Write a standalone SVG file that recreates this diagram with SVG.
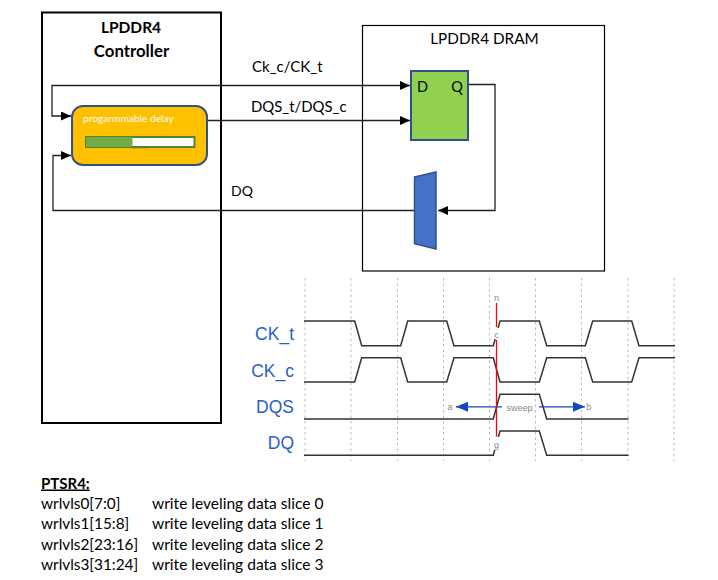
<svg xmlns="http://www.w3.org/2000/svg" width="718" height="580" viewBox="0 0 718 580">
<style>
text{font-family:"Lato","Liberation Sans",sans-serif;fill:#000}
.t{font-size:15px}
.l{font-size:15.350px}
.r{font-size:15.550px}
.b{font-size:15.500px;font-weight:700;text-anchor:middle}
.w{fill:none;stroke:#222;stroke-width:1.3}
.wave{fill:none;stroke:#333;stroke-width:1.5}
.grid{stroke:#bbb;stroke-width:1;stroke-dasharray:2.5 3}
.sig{font-family:"Liberation Sans",sans-serif;font-size:17.500px;fill:#2a5fc8;text-anchor:end}
.m{font-family:"Liberation Sans",sans-serif;font-size:9px;fill:#888;text-anchor:middle}
.ff{font-size:14.500px;text-anchor:middle}
</style>
<defs>
<marker id="ah" markerWidth="10" markerHeight="9" refX="10" refY="4.500" orient="auto-start-reverse" markerUnits="userSpaceOnUse"><path d="M0 0L10 4.500L0 9Z" fill="#000"/></marker>
<marker id="bh" markerWidth="12" markerHeight="10" refX="12" refY="5" orient="auto" markerUnits="userSpaceOnUse"><path d="M0 0L12 5L0 10Z" fill="#1048c0"/></marker>
</defs>
<rect width="718" height="580" fill="#fff"/>
<g id="controller">
<rect x="42" y="12.500" width="179" height="410.500" fill="#fff" stroke="#000" stroke-width="2"/>
<text class="b" x="131" y="33">LPDDR4</text>
<text class="b" x="131.500" y="57" style="font-size:16.800px">Controller</text>
</g>
<g id="dram">
<rect x="362.500" y="25.500" width="242" height="245.500" fill="#fff" stroke="#000" stroke-width="1.200"/>
<text class="t" x="484.500" y="44" text-anchor="middle" style="font-size:15.300px">LPDDR4 DRAM</text>
</g>
<g id="connectors">
<path class="w" d="M71 116H52V85.500H410" marker-start="url(#ah)" marker-end="url(#ah)"/>
<path class="w" d="M207 120.500H410" marker-end="url(#ah)"/>
<path class="w" d="M468 84.500H495V210.500H438" marker-end="url(#ah)"/>
<path class="w" d="M415 210.500H53V155.500H71" marker-end="url(#ah)"/>
</g>
<g id="delay">
<rect x="72" y="106" width="135" height="59" rx="11" fill="#ffc000" stroke="#2f528f" stroke-width="2"/>
<text x="83" y="122" font-size="10.200px" style="fill:#fff">progarmmable delay</text>
<rect x="86" y="137" width="108.500" height="10" fill="#fff" stroke="#548235" stroke-width="2"/>
<rect x="86" y="137" width="46.500" height="10" fill="#70ad47"/>
<path d="M132 147.500H147.500" stroke="#548235" stroke-width="1.500"/>
</g>
<g id="ff">
<rect x="411" y="71" width="57" height="69" fill="#92d050" stroke="#2f528f" stroke-width="2"/>
<text class="ff" x="422.500" y="92">D</text>
<text class="ff" x="457" y="92">Q</text>
</g>
<g id="mux">
<path d="M414.500 177L436 172V249L414.500 243.700Z" fill="#4472c4" stroke="#2f528f" stroke-width="1.500"/>
</g>
<g id="signal-labels">
<text class="t" x="252" y="72">Ck_c/CK_t</text>
<text class="t" x="251" y="112" style="font-size:14.900px">DQS_t/DQS_c</text>
<text class="t" x="231" y="196" style="font-size:14px">DQ</text>
</g>
<g id="timing">
<path class="grid" d="M305 278V461M351 278V461M397.500 278V461M443.500 278V461M489.500 278V461M535.500 278V461M581.500 278V461M628 278V461M674 278V461"/>
<text class="sig" x="294" y="340">CK_t</text>
<text class="sig" x="294" y="377">CK_c</text>
<text class="sig" x="294" y="413">DQS</text>
<text class="sig" x="294" y="449">DQ</text>
<path class="wave" d="M304 321H354.700L361.700 345.700H400.700L407.700 321H446.700L454 345.700H493.300L500 321H539.300L546.700 345.700H585.300L592.700 321H631.700L639 345.700H675"/>
<path class="wave" d="M304 382H354.700L361.700 357.700H400.700L407.700 382H446.700L454 357.700H493.300L500 382H539.300L546.700 357.700H585.300L592.700 382H631.700L639 357.700H675"/>
<path class="wave" d="M304 419H493.300L500 394.300H539.300L546.700 419H628.500"/>
<path class="wave" d="M304 455.300H493.300L500 431H539.300L546.700 455.300H628.500"/>
<rect x="494" y="328" width="5" height="11" fill="#fff"/>
<rect x="491" y="437" width="10" height="13" fill="#fff"/>
<path d="M496.500 303V327M496.500 340V436.500" stroke="#f00" stroke-width="1.300" fill="none"/>
<path d="M502 406.800H456" stroke="#1048c0" stroke-width="1.200" marker-end="url(#bh)"/>
<path d="M539 406.800H585" stroke="#1048c0" stroke-width="1.200" marker-end="url(#bh)"/>
<text class="m" x="496.500" y="301">n</text>
<text class="m" x="496.500" y="338">c</text>
<text class="m" x="496.500" y="448">g</text>
<text class="m" x="450" y="410">a</text>
<text class="m" x="589" y="410">b</text>
<text class="m" x="519.500" y="411">sweep</text>
</g>
<g id="legend">
<text class="t" x="41" y="488.500" font-weight="700" text-decoration="underline">PTSR4:</text>
<text class="l" x="41" y="508.500">wrlvls0[7:0]</text><text class="r" x="152" y="508.500">write leveling data slice 0</text>
<text class="l" x="41" y="529">wrlvls1[15:8]</text><text class="r" x="152" y="529">write leveling data slice 1</text>
<text class="l" x="41" y="549.500">wrlvls2[23:16]</text><text class="r" x="152" y="549.500">write leveling data slice 2</text>
<text class="l" x="41" y="570">wrlvls3[31:24]</text><text class="r" x="152" y="570">write leveling data slice 3</text>
</g>
</svg>
